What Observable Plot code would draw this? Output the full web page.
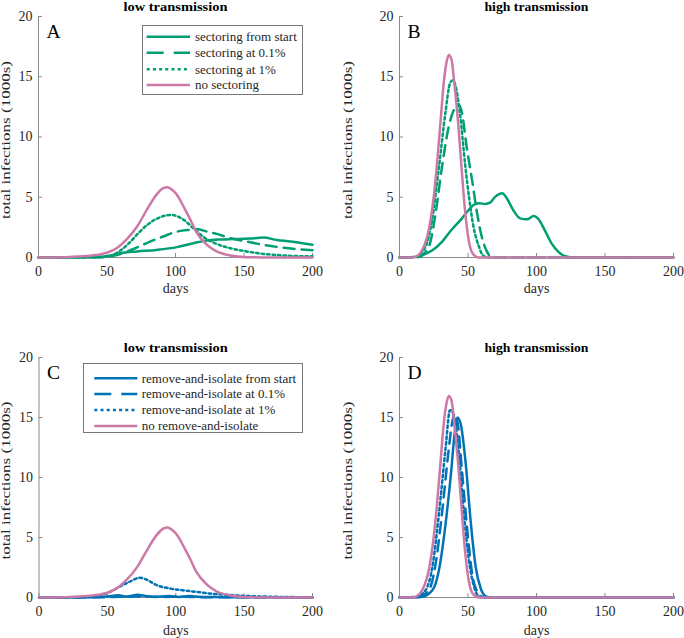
<!DOCTYPE html>
<html><head><meta charset="utf-8">
<script src="https://cdn.jsdelivr.net/npm/d3@7"></script>
<script src="https://cdn.jsdelivr.net/npm/@observablehq/plot@0.6"></script>
<style>
html,body{margin:0;padding:0;background:#fff;}
#fig{position:relative;width:684px;height:638px;overflow:hidden;font-family:"Liberation Serif","Times New Roman",serif;color:#262626;}
.panel{position:absolute;}
.panel svg{overflow:visible;}
.legend{position:absolute;}
</style></head><body><div id="fig"></div>
<script>
// ---- text / ticks ----
const xTicks = [0, 50, 100, 150, 200];
const yTicks = [0, 5, 10, 15, 20];
const titles = ["low transmission", "high transmission", "low transmission", "high transmission"];
const letters = ["A", "B", "C", "D"];
const xLabel = "days";
const yLabel = "total infections (1000s)";
const legendA = ["sectoring from start", "sectoring at 0.1%", "sectoring at 1%", "no sectoring"];
const legendC = ["remove-and-isolate from start", "remove-and-isolate at 0.1%", "remove-and-isolate at 1%", "no remove-and-isolate"];

// ---- data: [day, infections (1000s)] ----
const noneLow = [[0,0],[20,0.03],[30,0.08],[42,0.2],[50,0.4],[57,0.77],[64,1.46],[72,2.57],[79,3.95],[86,5.2],[91,5.75],[94,5.83],[97,5.66],[101,5.2],[106,4.2],[111,3.1],[115,2.15],[123,1.05],[130,0.5],[140,0.17],[152,0.03],[170,0],[200,0]];
const noneHigh = [[0,0],[9,0],[13,0.15],[16.5,0.6],[21.4,2.3],[25,5.05],[27.4,7.8],[29.9,11.2],[32.3,14.5],[34.7,16.4],[36,16.8],[38,16.4],[40,14.5],[43,10.9],[45.6,7.0],[48,3.7],[50.5,1.44],[53.4,0.33],[58,0],[200,0]];

const secStartLow = [[0,0],[40,0.02],[50,0.1],[60,0.36],[72,0.5],[86,0.63],[101,0.86],[113,1.19],[123,1.42],[133,1.5],[142,1.53],[154,1.57],[164,1.65],[174,1.46],[184,1.33],[200,1.05]];
const sec01Low = [[0,0],[45,0.02],[57,0.2],[67,0.6],[79,1.2],[91,1.74],[101,2.15],[111,2.3],[116,2.35],[123,2.15],[130,1.96],[140,1.6],[152,1.33],[164,1.05],[176,0.85],[189,0.69],[200,0.6]];
const sec1Low = [[0,0],[40,0.03],[52,0.14],[60,0.6],[67,1.3],[74,2.15],[81,2.85],[89,3.35],[97,3.53],[106,3.12],[113,2.43],[120,1.74],[130,1.13],[140,0.77],[152,0.5],[164,0.3],[176,0.19],[188,0.12],[200,0.1]];

const secStartHigh = [[0,0],[7,0],[16.5,0.2],[24,0.6],[31,1.3],[38,2.3],[45.6,3.25],[50.5,3.94],[54,4.36],[58,4.5],[62.6,4.44],[66,4.55],[70,5.05],[75,5.33],[78.4,4.9],[83,3.94],[88,3.25],[93,3.17],[98,3.44],[101,3.25],[106,2.28],[111,1.17],[116,0.47],[121,0.1],[128,0],[200,0]];
const sec01High = [[0,0],[14,0.05],[21.4,0.9],[26,3.4],[31,7.5],[36,10.9],[41,12.5],[43,12.7],[45.6,12],[49,9.2],[53,6.4],[56.6,3.7],[60.7,1.44],[64.6,0.33],[67.5,0],[200,0]];
const sec1High = [[0,0],[12,0.05],[19,0.9],[23.8,3.1],[28.6,7.3],[33.5,12],[37,14.5],[39,14.7],[41,14.2],[44.4,11.7],[48,7.6],[51,4.8],[54,2.55],[58,0.9],[60.7,0.2],[64,0],[200,0]];

const remStartLow = [[0,0],[40,0.02],[50,0.08],[58,0.18],[64,0.08],[72,0.22],[78,0.12],[85,0.05],[95,0.12],[102,0.05],[110,0.12],[118,0.05],[130,0.04],[150,0.02],[200,0]];
const rem01Low = [[0,0],[45,0.02],[60,0.06],[75,0.08],[90,0.05],[105,0.06],[120,0.03],[150,0.01],[200,0]];
const rem1Low = [[0,0],[30,0.03],[42,0.1],[52,0.47],[59,0.9],[66,1.3],[73.7,1.64],[78.5,1.5],[86,1.03],[95.6,0.75],[105,0.6],[115,0.47],[125,0.33],[134.6,0.25],[144,0.17],[164,0.08],[188,0.03],[200,0.02]];

const remStartHigh = [[0,0],[16,0.05],[24,0.6],[28.8,2.3],[33.7,6.2],[37.3,10],[40.5,13.9],[42.2,15.0],[44.6,14.5],[48.3,11.2],[51.9,6.4],[55.6,2.55],[59.3,0.75],[63,0.1],[67.8,0],[200,0]];
const rem01High = [[0,0],[14,0.05],[21.5,0.6],[26,2.55],[31,7],[35.6,12],[38.5,14.6],[40.3,15.3],[42.5,14.5],[45.8,10.3],[49.5,5.6],[53,2.0],[56.8,0.47],[60.5,0.05],[64,0],[200,0]];
const rem1High = [[0,0],[12,0.05],[19,0.6],[24,2.55],[28.8,7],[33.7,12.5],[36.8,15.6],[38,15.55],[39.8,15.05],[43.4,12],[47,7],[50.7,3.1],[54.4,0.9],[58,0.1],[62,0],[200,0]];

// ---- styles ----
const GREEN = "#009e73", BLUE = "#0072b5", PINK = "#cc79a7";
const AXIS = "#8a8a8a", TEXT = "#262626";
const DASH = "11,7", DOT = "2.6,2.9";
const styleSets = {
  sec: [{color: GREEN, dash: null}, {color: GREEN, dash: DASH}, {color: GREEN, dash: DOT}, {color: PINK, dash: null}],
  rem: [{color: BLUE, dash: null}, {color: BLUE, dash: DASH}, {color: BLUE, dash: DOT}, {color: PINK, dash: null}]
};

const panels = [
  {left: 0, top: 0, mL: 38, mR: 30, mT: 16, mB: 62, titleDy: -6, xlDy: 35, set: "sec", data: [secStartLow, sec01Low, sec1Low, noneLow]},
  {left: 342, top: 0, mL: 57, mR: 11, mT: 16, mB: 62, titleDy: -6, xlDy: 35, set: "sec", data: [secStartHigh, sec01High, sec1High, noneHigh]},
  {left: 0, top: 319, mL: 38.5, mR: 30, mT: 38, mB: 41, titleDy: -5.5, xlDy: 37, set: "rem", data: [remStartLow, rem01Low, rem1Low, noneLow]},
  {left: 342, top: 319, mL: 57, mR: 11, mT: 38, mB: 41, titleDy: -5.5, xlDy: 37, set: "rem", data: [remStartHigh, rem01High, rem1High, noneHigh]}
];

const fig = document.getElementById("fig");

panels.forEach((cfg, i) => {
  const styles = styleSets[cfg.set];
  const chart = Plot.plot({
    width: 342, height: 319,
    marginLeft: cfg.mL, marginRight: cfg.mR, marginTop: cfg.mT, marginBottom: cfg.mB,
    x: {domain: [0, 200]},
    y: {domain: [0, 20]},
    style: {fontFamily: '"Liberation Serif","Times New Roman",serif', fontSize: "14px", color: TEXT, background: "transparent", overflow: "visible"},
    marks: [
      Plot.ruleX([0], {stroke: AXIS, strokeWidth: 1}),
      Plot.ruleY([0], {stroke: AXIS, strokeWidth: 1}),
      Plot.axisX(xTicks, {tickSize: -4, tickPadding: 13, stroke: AXIS, fontSize: 14, label: null, tickFormat: d => String(d)}),
      Plot.axisY(yTicks, {tickSize: -4, tickPadding: 10, stroke: AXIS, fontSize: 14, label: null, tickFormat: d => String(d)}),
      ...cfg.data.map((ser, k) => Plot.line(ser, {
        x: d => d[0], y: d => d[1], stroke: styles[k].color, strokeWidth: 2.5,
        strokeDasharray: styles[k].dash, curve: "monotone-x"
      })),
      Plot.text([titles[i]], {text: d => d, frameAnchor: "top", lineAnchor: "bottom", dy: cfg.titleDy, fontWeight: "bold", fontSize: 13, fill: "#000"}),
      Plot.text([letters[i]], {text: d => d, frameAnchor: "top-left", textAnchor: "start", lineAnchor: "bottom", dx: 8, dy: 21, fontSize: 19.5, fill: "#000"}),
      Plot.text([xLabel], {text: d => d, frameAnchor: "bottom", lineAnchor: "bottom", dy: cfg.xlDy, fontSize: 14}),
      Plot.text([yLabel], {text: d => d, frameAnchor: "left", rotate: -90, textAnchor: "middle", lineAnchor: "bottom", dx: -cfg.mL + 9.5, dy: 3, fontSize: 12.5})
    ]
  });
  d3.select(chart).selectAll("text").filter(function() { return this.textContent === yLabel; })
    .attr("textLength", 158).attr("lengthAdjust", "spacingAndGlyphs");
  d3.select(chart).selectAll("text").filter(function() { return this.textContent === titles[i]; })
    .attr("textLength", 104).attr("lengthAdjust", "spacingAndGlyphs");
  const div = document.createElement("div");
  div.className = "panel";
  div.style.left = cfg.left + "px";
  div.style.top = cfg.top + "px";
  div.appendChild(chart);
  fig.appendChild(div);
});

// ---- legends ----
function drawLegend(labels, styles, L) {
  const svg = d3.select(fig).append("svg").attr("class", "legend")
    .style("left", L.left + "px").style("top", L.top + "px")
    .attr("width", L.width).attr("height", L.height);
  svg.append("rect").attr("x", 0.5).attr("y", 0.5).attr("width", L.width - 1).attr("height", L.height - 1)
    .attr("fill", "#fff").attr("stroke", "#6a6a6a").attr("stroke-width", 0.9);
  labels.forEach((lab, k) => {
    const y = L.rowY[k];
    svg.append("line").attr("x1", L.s0).attr("x2", L.s1).attr("y1", y).attr("y2", y)
      .attr("stroke", styles[k].color).attr("stroke-width", 2.5)
      .attr("stroke-dasharray", styles[k].dash ? (k === 1 ? "17,10" : "3,3.2") : null);
    svg.append("text").attr("x", L.tx).attr("y", y).attr("dy", "0.33em")
      .attr("font-family", '"Liberation Serif","Times New Roman",serif').attr("font-size", 13).attr("fill", TEXT)
      .text(lab);
  });
}
drawLegend(legendA, styleSets.sec, {left: 142, top: 25, width: 161, height: 70, rowY: [11.7, 27.7, 44.3, 60], s0: 4.7, s1: 48, tx: 53});
drawLegend(legendC, styleSets.rem, {left: 83, top: 363, width: 220, height: 70, rowY: [15.3, 31, 47, 63], s0: 11.3, s1: 54.3, tx: 58.7});
</script>
</body></html>
